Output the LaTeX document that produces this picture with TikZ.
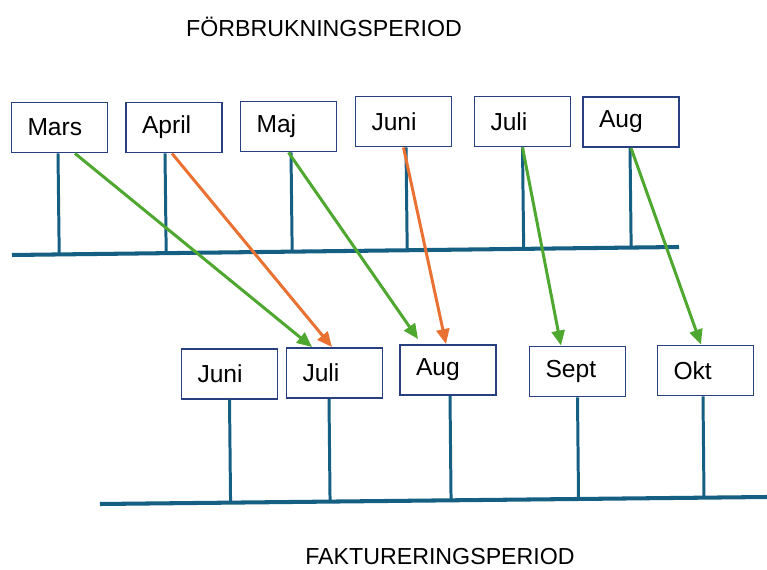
\documentclass[tikz,border=0pt]{standalone}
\usepackage{fontspec}
\setmainfont{Liberation Sans}
\usetikzlibrary{arrows.meta,calc}
\definecolor{axisblue}{RGB}{21,96,130}
\definecolor{boxblue}{RGB}{40,64,128}
\definecolor{shiftgreen}{RGB}{78,167,46}
\definecolor{shiftorange}{RGB}{233,113,50}

\begin{document}
\begin{tikzpicture}[x=0.02cm,y=-0.02cm,
                    month/.style={draw=boxblue,line width=1.1pt,fill=white,
                      minimum height=10mm,text width=12.8mm,inner xsep=3.2mm,
                      align=left,font=\fontsize{14}{16}\selectfont},
                    title/.style={font=\fontsize{13.2}{15}\selectfont},
                    stem/.style={draw=axisblue,line width=1.7pt},
                    axis/.style={draw=axisblue,line width=2.3pt},
                    green arrow/.style={draw=shiftgreen,line width=1.7pt,
                      -{Triangle[length=3mm,width=2.6mm]}},
                    orange arrow/.style={draw=shiftorange,line width=1.7pt,
                      -{Triangle[length=3mm,width=2.6mm]}}]
  \useasboundingbox (0,0) rectangle (767,570);

  \node[title] (forbr) at (324,27) {FÖRBRUKNINGSPERIOD};
  \node[title] (fakt) at (440,557) {FAKTURERINGSPERIOD};

  % consumption months
  \node[month] (mars)  at (59.5,127.5) {Mars};
  \node[month] (april) at (174,127.5) {April};
  \node[month] (maj)   at (288.5,126.5) {Maj};
  \node[month] (juni)  at (403.5,121.5) {Juni};
  \node[month] (juli)  at (522.5,121.5) {Juli};
  \node[month] (aug)   at (631,122) {Aug};

  % invoice months
  \node[month] (fjuni) at (229.5,374) {Juni};
  \node[month] (fjuli) at (334.5,373) {Juli};
  \node[month] (faug)  at (448,370) {Aug};
  \node[month] (fsept) at (577.5,371.5) {Sept};
  \node[month] (fokt)  at (705.5,370.5) {Okt};

  % time axes
  \coordinate (t0) at (12,255);
  \coordinate (t1) at (679,247);
  \coordinate (b0) at (100,504);
  \coordinate (b1) at (767,497);
  \draw[axis] (t0) -- (t1);
  \draw[axis] (b0) -- (b1);

  \foreach \m/\dx in {mars/-0.3mm,april/-1.8mm,maj/0.5mm,juni/0.5mm,juli/0mm,aug/-0.2mm}{
    \coordinate (s) at ([xshift=\dx]\m.south);
    \draw[stem] (s) -- ($(t0)!(s)!(t1)$);
  }
  \foreach \m/\dx in {fjuni/0mm,fjuli/-1.1mm,faug/0.4mm,fsept/0mm,fokt/-0.5mm}{
    \coordinate (s) at ([xshift=\dx]\m.south);
    \draw[stem] (s) -- ($(b0)!(s)!(b1)$);
  }

  % shifts
  \draw[green arrow]  ([xshift=3.1mm]mars.south) -- ([xshift=-4.5mm]fjuli.north);
  \draw[orange arrow] ([xshift=-0.4mm]april.south) -- ([xshift=-0.5mm]fjuli.north);
  \draw[green arrow]  (maj.south) -- ([xshift=-6mm,yshift=1mm]faug.north);
  \draw[orange arrow] (juni.south) -- ([xshift=-0.4mm]faug.north);
  \draw[green arrow]  (juli.south) -- ([xshift=-3.3mm]fsept.north);
  \draw[green arrow]  (aug.south) -- ([xshift=-0.9mm]fokt.north);
\end{tikzpicture}
\end{document}
